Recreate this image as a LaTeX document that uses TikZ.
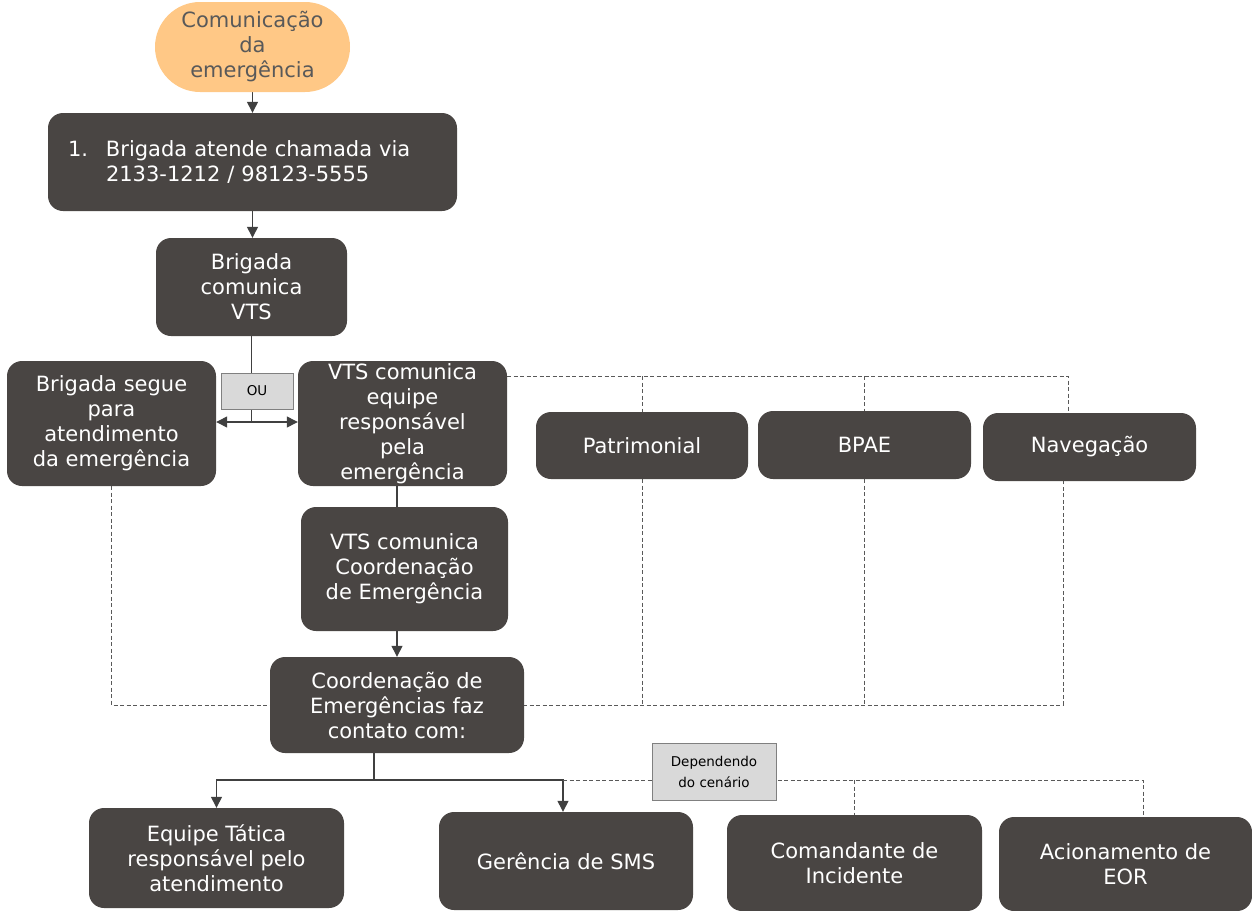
\documentclass[tikz,border=0pt]{standalone}
\usepackage{fontspec}
\setmainfont{DejaVu Sans}
\usetikzlibrary{arrows.meta,backgrounds}
\definecolor{boxgray}{HTML}{494543}
\definecolor{linegray}{HTML}{404040}
\definecolor{dashgray}{HTML}{595959}
\definecolor{startorange}{HTML}{FFC886}
\definecolor{notegray}{HTML}{D9D9D9}
\begin{document}
\begin{tikzpicture}[x=1pt, y=-1pt,
        >={Triangle[length=11pt,width=11pt]},
        every node/.style={font=\fontsize{21}{25}\selectfont},
        stepbox/.style={fill=boxgray, text=white, rounded corners=15pt, align=center, inner sep=0pt},
        startbox/.style={fill=startorange, text=dashgray, rounded corners=45pt, align=center, inner sep=0pt},
        notebox/.style={draw=gray, fill=notegray, line width=1pt, inner sep=0pt, font=\fontsize{13.5}{21}\selectfont},
        flow/.style={draw=linegray, line width=1.3pt},
        hint/.style={draw=dashgray, line width=0.9pt, dash pattern=on 4pt off 2.5pt}]
        \useasboundingbox (0,0) rectangle (1252,910);

        \node[startbox, minimum width=195pt, minimum height=90pt] (start) at (252.5,47) {Comunicação\\da\\emergência};
        \node[stepbox, minimum width=409pt, minimum height=98pt, text width=369pt, align=left] (call) at (252.5,162) {\makebox[38pt][l]{1.}Brigada atende chamada via\\\hspace*{38pt}2133-1212 / 98123-5555};
        \node[stepbox, minimum width=191pt, minimum height=98pt] (tovts) at (251.5,287) {Brigada\\comunica\\VTS};
        \node[stepbox, minimum width=209pt, minimum height=125pt] (brigade) at (111.5,423.5) {Brigada segue\\para\\atendimento\\da emergência};
        \node[stepbox, minimum width=209pt, minimum height=125pt] (team) at (402.5,423.5) {VTS comunica\\equipe\\responsável\\pela\\emergência};
        \node[stepbox, minimum width=212pt, minimum height=67pt] (patrimonial) at (642,445.5) {Patrimonial};
        \node[stepbox, minimum width=213pt, minimum height=68pt] (bpae) at (864.5,445) {BPAE};
        \node[stepbox, minimum width=213pt, minimum height=68pt] (nav) at (1089.5,447) {Navegação};
        \node[stepbox, minimum width=207pt, minimum height=124pt] (coordcall) at (404.5,569) {VTS comunica\\Coordenação\\de Emergência};
        \node[stepbox, minimum width=254pt, minimum height=96pt] (coord) at (397,705) {Coordenação de\\Emergências faz\\contato com:};
        \node[stepbox, minimum width=255pt, minimum height=100pt] (tactic) at (216.5,858) {Equipe Tática\\responsável pelo\\atendimento};
        \node[stepbox, minimum width=254pt, minimum height=98pt] (sms) at (566,861) {Gerência de SMS};
        \node[stepbox, minimum width=255pt, minimum height=96pt] (incident) at (854.5,863) {Comandante de\\Incidente};
        \node[stepbox, minimum width=253pt, minimum height=94pt] (eor) at (1125.5,864) {Acionamento de\\EOR};
        \node[notebox, minimum width=72pt, minimum height=36pt] (ou) at (257,391) {OU};
        \node[notebox, minimum width=124pt, minimum height=57pt, align=center] (scenario) at (714,771.5) {Dependendo\\do cenário};

        \coordinate (split) at (251.5,422);
        \coordinate (fork) at (374,780);
        \coordinate (alerttop) at (1068,376);
        \coordinate (alertbase) at (1063,705);
        \coordinate (scenend) at (1143,780);

        \begin{scope}[on background layer]
        \draw[flow, ->] (start.south) -- (call.north);
        \draw[flow, ->] (call.south) -- (call.south |- tovts.north);
        \draw[flow] (tovts.south) -- (split);
        \draw[flow, ->] (split) -- (brigade.east |- split);
        \draw[flow, ->] (split) -- (team.west |- split);
        \draw[flow] ([xshift=-5.5pt]team.south) -- ([xshift=-5.5pt]team.south |- coordcall.north);
        \draw[flow, ->] (coordcall.south -| coord.north) -- (coord.north);
        \draw[flow] (coord.south -| fork) -- (fork);
        \draw[flow, ->] (fork) -| (tactic.north);
        \draw[flow, ->] (fork) -| ([xshift=-3pt]sms.north);

        \draw[hint] ([xshift=-3pt]sms.north |- fork) -- (scenend) -- (scenend |- eor.north);
        \draw[hint] (incident.north |- fork) -- (incident.north);
        \draw[hint] ([yshift=47.5pt]team.east) -- (alerttop) -- (alerttop |- nav.north);
        \draw[hint] (patrimonial.north |- alerttop) -- (patrimonial.north);
        \draw[hint] (bpae.north |- alerttop) -- (bpae.north);
        \draw[hint] (brigade.south) -- (brigade.south |- alertbase) -- (alertbase) -- (alertbase |- nav.south);
        \draw[hint] (patrimonial.south) -- (patrimonial.south |- alertbase);
        \draw[hint] (bpae.south) -- (bpae.south |- alertbase);
        \end{scope}
\end{tikzpicture}
\end{document}
